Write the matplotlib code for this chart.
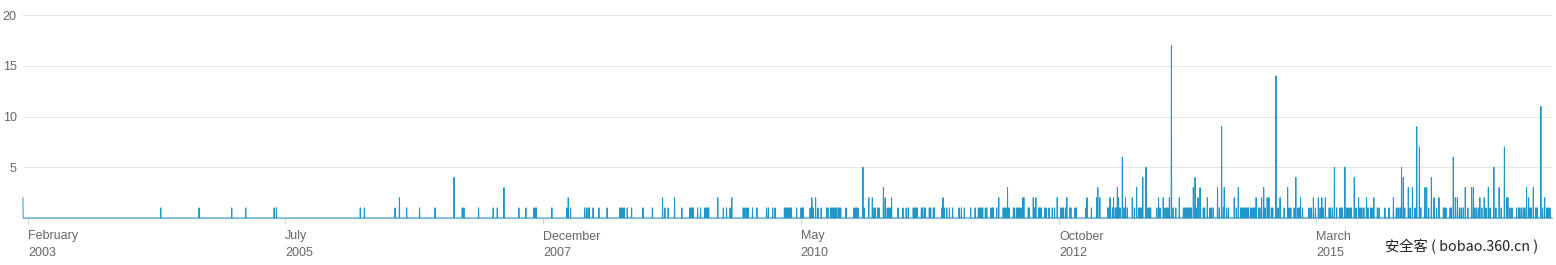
import matplotlib
matplotlib.use("Agg")
import matplotlib.pyplot as plt
import numpy as np
import pandas as pd

# daily counts, start 2003-01-15; days not listed are 0
start_date = "2003-01-15"
n_days = 5236

# (day offset from start, count)
events = [
    (0, 2), (472, 1), (603, 1), (715, 1), (763, 1), (860, 1), (868, 1),
    (1155, 1), (1169, 1), (1274, 1), (1289, 2), (1314, 1), (1358, 1), (1411, 1),
    (1476, 4), (1504, 1), (1510, 1), (1560, 1), (1610, 1), (1624, 1), (1647, 3),
    (1698, 1), (1722, 1), (1749, 1), (1754, 1), (1758, 1), (1811, 1), (1862, 1),
    (1867, 2), (1875, 1), (1923, 1), (1929, 1), (1935, 1), (1939, 1), (1952, 1),
    (1972, 1), (2000, 1), (2044, 1), (2049, 1), (2054, 1), (2059, 1), (2069, 1),
    (2084, 1), (2123, 1), (2155, 1), (2190, 2), (2198, 1), (2209, 1), (2231, 2),
    (2256, 1), (2283, 1), (2287, 1), (2292, 1), (2295, 1), (2310, 1), (2320, 1),
    (2335, 1), (2340, 1), (2344, 1), (2348, 1), (2379, 2), (2398, 1), (2409, 1),
    (2421, 1), (2427, 2), (2466, 1), (2472, 1), (2478, 1), (2483, 1), (2498, 1),
    (2513, 1), (2546, 1), (2552, 1), (2567, 1), (2575, 1),
    (2607, 1), (2611, 1), (2616, 1), (2620, 1), (2626, 1), (2631, 1), (2649, 1),
    (2664, 1), (2668, 1), (2672, 1), (2695, 1), (2701, 2), (2705, 1), (2714, 2),
    (2722, 1), (2733, 1), (2752, 1), (2756, 1), (2765, 1), (2770, 1), (2774, 1),
    (2780, 1), (2784, 1), (2791, 1), (2795, 1), (2800, 1), (2818, 1), (2845, 1),
    (2850, 1), (2854, 1), (2859, 1), (2876, 5), (2880, 1), (2896, 2), (2908, 2),
    (2914, 1), (2918, 1), (2926, 1), (2931, 1), (2946, 3), (2952, 2), (2959, 1),
    (2964, 1), (2969, 1), (2974, 2), (2996, 1), (3013, 1), (3024, 1), (3031, 1),
    (3048, 1), (3053, 1), (3058, 1), (3062, 1), (3076, 1), (3080, 1), (3086, 1),
    (3089, 1), (3103, 1), (3108, 1), (3117, 1), (3120, 1), (3146, 1), (3150, 2),
    (3154, 1), (3163, 1), (3172, 1), (3183, 1), (3205, 1), (3213, 1), (3223, 1),
    (3245, 1), (3260, 1), (3271, 1), (3276, 1), (3281, 1), (3286, 1), (3295, 1),
    (3300, 1), (3314, 1), (3319, 1), (3322, 1), (3334, 1), (3341, 2), (3356, 1),
    (3361, 1), (3366, 1), (3371, 3), (3376, 1), (3391, 1), (3395, 1), (3402, 1),
    (3407, 1), (3411, 1), (3417, 1), (3423, 2), (3427, 2), (3442, 1), (3445, 1),
    (3459, 2), (3464, 1), (3468, 2), (3478, 1),
    (3482, 1), (3487, 1), (3498, 1), (3503, 1), (3513, 1), (3524, 1), (3532, 1),
    (3541, 2), (3553, 1), (3557, 1), (3562, 1), (3569, 1), (3574, 2), (3585, 1),
    (3588, 1), (3602, 1), (3606, 1), (3639, 1), (3643, 2), (3658, 1), (3676, 2),
    (3680, 3), (3687, 2), (3714, 1), (3718, 1), (3722, 2), (3730, 1), (3734, 2),
    (3740, 1), (3743, 1), (3747, 3), (3751, 2), (3756, 1), (3764, 6), (3770, 1),
    (3775, 2), (3781, 1), (3798, 2), (3805, 1), (3813, 3), (3820, 1), (3824, 1),
    (3828, 1), (3834, 4), (3845, 5), (3852, 1), (3856, 1), (3861, 1), (3882, 1),
    (3888, 2), (3893, 1), (3904, 2), (3910, 1), (3916, 1), (3920, 1), (3925, 2),
    (3932, 17), (3938, 1), (3947, 1), (3959, 2), (3973, 1), (3977, 1), (3982, 1),
    (3986, 1), (3991, 1), (3996, 1), (4000, 1), (4007, 3), (4013, 4), (4019, 1),
    (4023, 2), (4030, 3), (4041, 1), (4046, 1), (4055, 2), (4064, 1), (4069, 1),
    (4075, 1), (4090, 3), (4096, 1), (4104, 9), (4110, 1), (4113, 3), (4121, 1),
    (4127, 1), (4147, 2), (4154, 1), (4161, 3), (4169, 1), (4174, 1), (4178, 1),
    (4183, 1), (4187, 1), (4192, 1), (4196, 1), (4203, 1), (4208, 1), (4212, 1),
    (4217, 1), (4222, 2), (4231, 1), (4235, 1), (4241, 2), (4248, 3), (4253, 1),
    (4260, 2), (4266, 2), (4274, 1), (4279, 1), (4290, 14), (4297, 1), (4304, 2),
    (4318, 1), (4330, 3), (4335, 1), (4341, 1), (4352, 1), (4358, 4), (4365, 1),
    (4370, 1),
    (4374, 2), (4381, 1), (4403, 1), (4410, 1), (4418, 2), (4425, 1), (4435, 2),
    (4441, 1), (4447, 2), (4452, 1), (4459, 2), (4472, 1), (4477, 1), (4483, 1),
    (4490, 5), (4498, 1), (4509, 1), (4514, 1), (4518, 1), (4526, 5), (4532, 1),
    (4537, 1), (4543, 1), (4548, 1), (4558, 4), (4564, 1), (4573, 2), (4578, 1),
    (4584, 1), (4591, 1), (4600, 2), (4605, 1), (4614, 1), (4619, 1), (4625, 2),
    (4637, 1), (4643, 1), (4663, 1), (4677, 1), (4692, 2), (4702, 1), (4708, 1),
    (4715, 1), (4720, 5), (4726, 4), (4731, 1), (4743, 3), (4749, 1), (4757, 3),
    (4766, 1), (4772, 9), (4781, 7), (4786, 1), (4800, 3), (4806, 3), (4813, 1),
    (4822, 4), (4831, 2), (4840, 1), (4848, 2), (4863, 1), (4868, 1), (4872, 1),
    (4886, 1), (4890, 1), (4897, 6), (4904, 2), (4911, 2), (4918, 1), (4924, 1),
    (4931, 1), (4938, 3), (4947, 1), (4960, 3), (4966, 3), (4971, 1), (4977, 1),
    (4983, 1), (4988, 2), (4995, 1), (5003, 2), (5009, 1), (5017, 3), (5023, 1),
    (5036, 5), (5043, 1), (5054, 3), (5061, 1), (5072, 7), (5080, 2), (5084, 2),
    (5091, 1), (5098, 1), (5114, 1), (5121, 1), (5125, 1), (5131, 1), (5137, 1),
    (5142, 1), (5148, 3), (5155, 2), (5160, 1), (5164, 1), (5171, 3), (5180, 1),
    (5185, 1), (5197, 11), (5203, 1), (5210, 2), (5217, 1), (5222, 1), (5228, 1),
]

tick_dates = ["2003-02-01", "2005-07-01", "2007-12-01", "2010-05-01", "2012-10-01", "2015-03-01"]
tick_labels = ["February\n2003", "July\n2005", "December\n2007", "May\n2010", "October\n2012", "March\n2015"]
y_ticks = [5, 10, 15, 20]

dates = pd.date_range(start_date, periods=n_days, freq="D")
counts = np.zeros(n_days)
for d, v in events:
    counts[d] = v

plt.rcParams["font.family"] = ["Liberation Sans", "DejaVu Sans"]

fig = plt.figure(figsize=(15.56, 2.65), dpi=100)
ax = fig.add_axes([22.9 / 1556, 1 - 218 / 265, (1552 - 22.9) / 1556, 203 / 265])

for y in y_ticks:
    ax.axhline(y, color="#e6e6e6", lw=0.75, zorder=0)

ax.plot(dates, counts, color="#2196c9", lw=0.7, clip_on=False, zorder=3)

ax.set_xlim(dates[0], dates[-1])
ax.set_ylim(0, 20)

for s in ["top", "right", "left"]:
    ax.spines[s].set_visible(False)
ax.spines["bottom"].set_color("#ccd6eb")
ax.spines["bottom"].set_linewidth(0.75)

ax.set_yticks(y_ticks)
ax.set_yticklabels([str(y) for y in y_ticks])
ax.tick_params(axis="y", length=0, pad=4.5, labelsize=9, labelcolor="#666666")

ax.set_xticks(pd.to_datetime(tick_dates))
ax.set_xticklabels(tick_labels, ha="left", va="top", linespacing=1.45)
ax.tick_params(axis="x", length=4, width=0.75, color="#ccd6eb", pad=5,
               labelsize=9, labelcolor="#666666")

fig.text(1385 / 1556, 1 - 247 / 265, "安全客 ( bobao.360.cn )", fontsize=10.3, color="#222222",
         ha="left", va="center", family=["Noto Sans CJK SC", "DejaVu Sans"])

fig.savefig("out.png", dpi=100)
